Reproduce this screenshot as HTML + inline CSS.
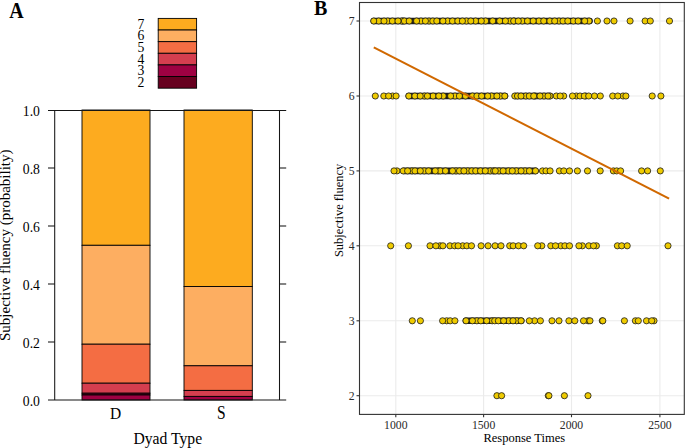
<!DOCTYPE html>
<html><head><meta charset="utf-8"><style>
html,body{margin:0;padding:0;background:#fff;}
body{width:685px;height:448px;overflow:hidden;}
svg{display:block;}
text{font-family:"Liberation Serif",serif;fill:#000;}
.lt{font-size:13.7px;}
.at{font-size:13.7px;}
.xt{font-size:15.5px;}
.ttl{font-size:15.7px;}
.ttl2{font-size:15px;}
.pl{font-size:20px;font-weight:bold;}
.bt{font-size:11.7px;fill:#2a2a2a;}
.bttl{font-size:12.5px;}
</style></head><body>
<svg width="685" height="448" viewBox="0 0 685 448">
<rect x="158.2" y="18.4" width="38.4" height="11.63" fill="#FDAB1F" stroke="#000" stroke-width="0.9"/>
<text transform="translate(144.4,28.62)" class="lt" text-anchor="end">7</text>
<rect x="158.2" y="30.03" width="38.4" height="11.63" fill="#FDAE61" stroke="#000" stroke-width="0.9"/>
<text transform="translate(144.4,40.24)" class="lt" text-anchor="end">6</text>
<rect x="158.2" y="41.66" width="38.4" height="11.63" fill="#F46D43" stroke="#000" stroke-width="0.9"/>
<text transform="translate(144.4,51.87)" class="lt" text-anchor="end">5</text>
<rect x="158.2" y="53.29" width="38.4" height="11.63" fill="#D53E4F" stroke="#000" stroke-width="0.9"/>
<text transform="translate(144.4,63.5)" class="lt" text-anchor="end">4</text>
<rect x="158.2" y="64.92" width="38.4" height="11.63" fill="#9E0142" stroke="#000" stroke-width="0.9"/>
<text transform="translate(144.4,75.14)" class="lt" text-anchor="end">3</text>
<rect x="158.2" y="76.55" width="38.4" height="11.63" fill="#67001F" stroke="#000" stroke-width="0.9"/>
<text transform="translate(144.4,86.77)" class="lt" text-anchor="end">2</text>
<rect x="82" y="110" width="68" height="135.3" fill="#FDAB1F" stroke="#000" stroke-width="0.9"/>
<rect x="82" y="245.3" width="68" height="98.9" fill="#FDAE61" stroke="#000" stroke-width="0.9"/>
<rect x="82" y="344.2" width="68" height="39" fill="#F46D43" stroke="#000" stroke-width="0.9"/>
<rect x="82" y="383.2" width="68" height="10" fill="#D53E4F" stroke="#000" stroke-width="0.9"/>
<rect x="82" y="393.2" width="68" height="1.8" fill="#67001F" stroke="#000" stroke-width="0.9"/>
<rect x="82" y="395" width="68" height="5" fill="#9E0142" stroke="#000" stroke-width="0.9"/>
<rect x="184" y="110" width="68.3" height="176.5" fill="#FDAB1F" stroke="#000" stroke-width="0.9"/>
<rect x="184" y="286.5" width="68.3" height="79.3" fill="#FDAE61" stroke="#000" stroke-width="0.9"/>
<rect x="184" y="365.8" width="68.3" height="24.6" fill="#F46D43" stroke="#000" stroke-width="0.9"/>
<rect x="184" y="390.4" width="68.3" height="6" fill="#D53E4F" stroke="#000" stroke-width="0.9"/>
<rect x="184" y="396.4" width="68.3" height="3.6" fill="#9E0142" stroke="#000" stroke-width="0.9"/>
<g stroke="#151515" stroke-width="1.05" fill="none">
<line x1="48" y1="110.4" x2="286.2" y2="110.4"/>
<line x1="48" y1="400" x2="286.2" y2="400"/>
<line x1="54.7" y1="110" x2="54.7" y2="400"/>
<line x1="279.5" y1="110" x2="279.5" y2="400"/>
<line x1="48" y1="168" x2="54.8" y2="168"/>
<line x1="279.5" y1="168" x2="286.2" y2="168"/>
<line x1="48" y1="226" x2="54.8" y2="226"/>
<line x1="279.5" y1="226" x2="286.2" y2="226"/>
<line x1="48" y1="284" x2="54.8" y2="284"/>
<line x1="279.5" y1="284" x2="286.2" y2="284"/>
<line x1="48" y1="342" x2="54.8" y2="342"/>
<line x1="279.5" y1="342" x2="286.2" y2="342"/>
</g>
<text transform="translate(39.9,115.6)" class="at" text-anchor="end">1.0</text>
<text transform="translate(39.9,173.6)" class="at" text-anchor="end">0.8</text>
<text transform="translate(39.9,231.6)" class="at" text-anchor="end">0.6</text>
<text transform="translate(39.9,289.6)" class="at" text-anchor="end">0.4</text>
<text transform="translate(39.9,347.6)" class="at" text-anchor="end">0.2</text>
<text transform="translate(39.9,405.6)" class="at" text-anchor="end">0.0</text>
<text transform="translate(115.7,419.2) scale(1,1.12)" class="xt" text-anchor="middle">D</text>
<text transform="translate(221.3,418.5) scale(1,1.16)" class="xt" text-anchor="middle">S</text>
<text transform="translate(167.75,444.1) scale(1,1.05)" class="ttl" text-anchor="middle">Dyad Type</text>
<text transform="translate(10,245.25) rotate(-90) scale(1,0.97)" class="ttl2" text-anchor="middle">Subjective fluency (probability)</text>
<text transform="translate(9.3,17.6) scale(1,1.13)" class="pl">A</text>
<rect x="359.5" y="2.5" width="324.8" height="411.9" fill="#fff"/>
<g stroke="#EBEBEB" stroke-width="1.1">
<line x1="395.8" y1="2.5" x2="395.8" y2="414.4"/>
<line x1="483.6" y1="2.5" x2="483.6" y2="414.4"/>
<line x1="571.5" y1="2.5" x2="571.5" y2="414.4"/>
<line x1="659.9" y1="2.5" x2="659.9" y2="414.4"/>
<line x1="359.5" y1="21.0" x2="684.3" y2="21.0"/>
<line x1="359.5" y1="96.0" x2="684.3" y2="96.0"/>
<line x1="359.5" y1="170.9" x2="684.3" y2="170.9"/>
<line x1="359.5" y1="245.8" x2="684.3" y2="245.8"/>
<line x1="359.5" y1="320.8" x2="684.3" y2="320.8"/>
<line x1="359.5" y1="395.7" x2="684.3" y2="395.7"/>
</g>
<rect x="370.6" y="17.7" width="222.2" height="6.6" rx="3" fill="#1a1a1a"/>
<rect x="405.6" y="92.7" width="102.6" height="6.6" rx="3" fill="#1a1a1a"/>
<rect x="512.4" y="92.7" width="40.6" height="6.6" rx="3" fill="#1a1a1a"/>
<rect x="400.8" y="167.6" width="137.8" height="6.6" rx="3" fill="#1a1a1a"/>
<rect x="462.6" y="317.5" width="61.9" height="6.6" rx="3" fill="#1a1a1a"/>
<g fill="#EFCB00" stroke="#1a1a1a" stroke-width="0.8">
<circle cx="378.7" cy="21" r="3.1"/>
<circle cx="387.8" cy="21" r="3.1"/>
<circle cx="403" cy="21" r="3.1"/>
<circle cx="401.8" cy="21" r="3.1"/>
<circle cx="404.4" cy="21" r="3.1"/>
<circle cx="421" cy="21" r="3.1"/>
<circle cx="429" cy="21" r="3.1"/>
<circle cx="432.8" cy="21" r="3.1"/>
<circle cx="447.7" cy="21" r="3.1"/>
<circle cx="466.4" cy="21" r="3.1"/>
<circle cx="475.6" cy="21" r="3.1"/>
<circle cx="485.6" cy="21" r="3.1"/>
<circle cx="510.2" cy="21" r="3.1"/>
<circle cx="514" cy="21" r="3.1"/>
<circle cx="522.3" cy="21" r="3.1"/>
<circle cx="527.5" cy="21" r="3.1"/>
<circle cx="538.9" cy="21" r="3.1"/>
<circle cx="549.8" cy="21" r="3.1"/>
<circle cx="559" cy="21" r="3.1"/>
<circle cx="563" cy="21" r="3.1"/>
<circle cx="573.3" cy="21" r="3.1"/>
<circle cx="589" cy="21" r="3.1"/>
<circle cx="645.1" cy="21" r="3.1"/>
<circle cx="392.6" cy="96" r="3.1"/>
<circle cx="424.5" cy="96" r="3.1"/>
<circle cx="433.1" cy="96" r="3.1"/>
<circle cx="443.2" cy="96" r="3.1"/>
<circle cx="455" cy="96" r="3.1"/>
<circle cx="472.5" cy="96" r="3.1"/>
<circle cx="491.6" cy="96" r="3.1"/>
<circle cx="500.4" cy="96" r="3.1"/>
<circle cx="514.8" cy="96" r="3.1"/>
<circle cx="525.8" cy="96" r="3.1"/>
<circle cx="529.3" cy="96" r="3.1"/>
<circle cx="535" cy="96" r="3.1"/>
<circle cx="544" cy="96" r="3.1"/>
<circle cx="550.1" cy="96" r="3.1"/>
<circle cx="556.3" cy="96" r="3.1"/>
<circle cx="563.7" cy="96" r="3.1"/>
<circle cx="576.4" cy="96" r="3.1"/>
<circle cx="580" cy="96" r="3.1"/>
<circle cx="585.7" cy="96" r="3.1"/>
<circle cx="594.5" cy="96" r="3.1"/>
<circle cx="623" cy="96" r="3.1"/>
<circle cx="397" cy="170.9" r="3.1"/>
<circle cx="403.2" cy="170.9" r="3.1"/>
<circle cx="412" cy="170.9" r="3.1"/>
<circle cx="415" cy="170.9" r="3.1"/>
<circle cx="424.2" cy="170.9" r="3.1"/>
<circle cx="438.2" cy="170.9" r="3.1"/>
<circle cx="440.3" cy="170.9" r="3.1"/>
<circle cx="456" cy="170.9" r="3.1"/>
<circle cx="467.8" cy="170.9" r="3.1"/>
<circle cx="471.8" cy="170.9" r="3.1"/>
<circle cx="490.2" cy="170.9" r="3.1"/>
<circle cx="499" cy="170.9" r="3.1"/>
<circle cx="508.4" cy="170.9" r="3.1"/>
<circle cx="516.3" cy="170.9" r="3.1"/>
<circle cx="525" cy="170.9" r="3.1"/>
<circle cx="535.5" cy="170.9" r="3.1"/>
<circle cx="542.5" cy="170.9" r="3.1"/>
<circle cx="559.4" cy="170.9" r="3.1"/>
<circle cx="563.8" cy="170.9" r="3.1"/>
<circle cx="613.4" cy="170.9" r="3.1"/>
<circle cx="616.7" cy="170.9" r="3.1"/>
<circle cx="641.6" cy="170.9" r="3.1"/>
<circle cx="440" cy="245.8" r="3.1"/>
<circle cx="442.9" cy="245.8" r="3.1"/>
<circle cx="449.9" cy="245.8" r="3.1"/>
<circle cx="454.6" cy="245.8" r="3.1"/>
<circle cx="462.7" cy="245.8" r="3.1"/>
<circle cx="466.8" cy="245.8" r="3.1"/>
<circle cx="509.7" cy="245.8" r="3.1"/>
<circle cx="541.8" cy="245.8" r="3.1"/>
<circle cx="550.8" cy="245.8" r="3.1"/>
<circle cx="560.8" cy="245.8" r="3.1"/>
<circle cx="582.4" cy="245.8" r="3.1"/>
<circle cx="596.4" cy="245.8" r="3.1"/>
<circle cx="617.4" cy="245.8" r="3.1"/>
<circle cx="446.7" cy="320.8" r="3.1"/>
<circle cx="450.2" cy="320.8" r="3.1"/>
<circle cx="476.9" cy="320.8" r="3.1"/>
<circle cx="492.2" cy="320.8" r="3.1"/>
<circle cx="494.7" cy="320.8" r="3.1"/>
<circle cx="508.8" cy="320.8" r="3.1"/>
<circle cx="516.7" cy="320.8" r="3.1"/>
<circle cx="534.6" cy="320.8" r="3.1"/>
<circle cx="588.2" cy="320.8" r="3.1"/>
<circle cx="590" cy="320.8" r="3.1"/>
<circle cx="602.3" cy="320.8" r="3.1"/>
<circle cx="635.4" cy="320.8" r="3.1"/>
<circle cx="646.5" cy="320.8" r="3.1"/>
<circle cx="654" cy="320.8" r="3.1"/>
<circle cx="548.3" cy="395.7" r="3.1"/>
<circle cx="373.7" cy="21" r="3.1"/>
<circle cx="384" cy="21" r="3.1"/>
<circle cx="392.4" cy="21" r="3.1"/>
<circle cx="398" cy="21" r="3.1"/>
<circle cx="409.2" cy="21" r="3.1"/>
<circle cx="416.6" cy="21" r="3.1"/>
<circle cx="425.4" cy="21" r="3.1"/>
<circle cx="436.8" cy="21" r="3.1"/>
<circle cx="442.9" cy="21" r="3.1"/>
<circle cx="452.5" cy="21" r="3.1"/>
<circle cx="457.8" cy="21" r="3.1"/>
<circle cx="462.4" cy="21" r="3.1"/>
<circle cx="470.8" cy="21" r="3.1"/>
<circle cx="481.3" cy="21" r="3.1"/>
<circle cx="492.7" cy="21" r="3.1"/>
<circle cx="499.7" cy="21" r="3.1"/>
<circle cx="505.4" cy="21" r="3.1"/>
<circle cx="513.7" cy="21" r="3.1"/>
<circle cx="518.3" cy="21" r="3.1"/>
<circle cx="533.2" cy="21" r="3.1"/>
<circle cx="543.7" cy="21" r="3.1"/>
<circle cx="554.7" cy="21" r="3.1"/>
<circle cx="567.8" cy="21" r="3.1"/>
<circle cx="578.1" cy="21" r="3.1"/>
<circle cx="584.7" cy="21" r="3.1"/>
<circle cx="597.4" cy="21" r="3.1"/>
<circle cx="607" cy="21" r="3.1"/>
<circle cx="614" cy="21" r="3.1"/>
<circle cx="630.1" cy="21" r="3.1"/>
<circle cx="650.3" cy="21" r="3.1"/>
<circle cx="669.5" cy="21" r="3.1"/>
<circle cx="375.3" cy="96" r="3.1"/>
<circle cx="383.8" cy="96" r="3.1"/>
<circle cx="388.6" cy="96" r="3.1"/>
<circle cx="396.1" cy="96" r="3.1"/>
<circle cx="408.8" cy="96" r="3.1"/>
<circle cx="414.9" cy="96" r="3.1"/>
<circle cx="420.2" cy="96" r="3.1"/>
<circle cx="427.4" cy="96" r="3.1"/>
<circle cx="438.8" cy="96" r="3.1"/>
<circle cx="450.6" cy="96" r="3.1"/>
<circle cx="459.4" cy="96" r="3.1"/>
<circle cx="465.5" cy="96" r="3.1"/>
<circle cx="476.9" cy="96" r="3.1"/>
<circle cx="481.6" cy="96" r="3.1"/>
<circle cx="487.7" cy="96" r="3.1"/>
<circle cx="496.9" cy="96" r="3.1"/>
<circle cx="504.8" cy="96" r="3.1"/>
<circle cx="517.5" cy="96" r="3.1"/>
<circle cx="521" cy="96" r="3.1"/>
<circle cx="533.7" cy="96" r="3.1"/>
<circle cx="540" cy="96" r="3.1"/>
<circle cx="548" cy="96" r="3.1"/>
<circle cx="560.2" cy="96" r="3.1"/>
<circle cx="572.5" cy="96" r="3.1"/>
<circle cx="584.3" cy="96" r="3.1"/>
<circle cx="588.7" cy="96" r="3.1"/>
<circle cx="600.3" cy="96" r="3.1"/>
<circle cx="612.7" cy="96" r="3.1"/>
<circle cx="617.8" cy="96" r="3.1"/>
<circle cx="625.9" cy="96" r="3.1"/>
<circle cx="652.2" cy="96" r="3.1"/>
<circle cx="660.9" cy="96" r="3.1"/>
<circle cx="394" cy="170.9" r="3.1"/>
<circle cx="407.6" cy="170.9" r="3.1"/>
<circle cx="420.3" cy="170.9" r="3.1"/>
<circle cx="428.6" cy="170.9" r="3.1"/>
<circle cx="435.2" cy="170.9" r="3.1"/>
<circle cx="445.5" cy="170.9" r="3.1"/>
<circle cx="452.5" cy="170.9" r="3.1"/>
<circle cx="459.5" cy="170.9" r="3.1"/>
<circle cx="463.9" cy="170.9" r="3.1"/>
<circle cx="475.7" cy="170.9" r="3.1"/>
<circle cx="480.5" cy="170.9" r="3.1"/>
<circle cx="485.3" cy="170.9" r="3.1"/>
<circle cx="493.7" cy="170.9" r="3.1"/>
<circle cx="495.3" cy="170.9" r="3.1"/>
<circle cx="503.1" cy="170.9" r="3.1"/>
<circle cx="512.3" cy="170.9" r="3.1"/>
<circle cx="521.1" cy="170.9" r="3.1"/>
<circle cx="529.4" cy="170.9" r="3.1"/>
<circle cx="546" cy="170.9" r="3.1"/>
<circle cx="550.1" cy="170.9" r="3.1"/>
<circle cx="569.5" cy="170.9" r="3.1"/>
<circle cx="577.4" cy="170.9" r="3.1"/>
<circle cx="587.5" cy="170.9" r="3.1"/>
<circle cx="600.2" cy="170.9" r="3.1"/>
<circle cx="620.6" cy="170.9" r="3.1"/>
<circle cx="647.6" cy="170.9" r="3.1"/>
<circle cx="660.3" cy="170.9" r="3.1"/>
<circle cx="390.7" cy="245.8" r="3.1"/>
<circle cx="408.4" cy="245.8" r="3.1"/>
<circle cx="430" cy="245.8" r="3.1"/>
<circle cx="435.9" cy="245.8" r="3.1"/>
<circle cx="458.1" cy="245.8" r="3.1"/>
<circle cx="471.5" cy="245.8" r="3.1"/>
<circle cx="481.1" cy="245.8" r="3.1"/>
<circle cx="488.1" cy="245.8" r="3.1"/>
<circle cx="495.1" cy="245.8" r="3.1"/>
<circle cx="501" cy="245.8" r="3.1"/>
<circle cx="513.2" cy="245.8" r="3.1"/>
<circle cx="518.5" cy="245.8" r="3.1"/>
<circle cx="523.7" cy="245.8" r="3.1"/>
<circle cx="537.7" cy="245.8" r="3.1"/>
<circle cx="555.5" cy="245.8" r="3.1"/>
<circle cx="564.9" cy="245.8" r="3.1"/>
<circle cx="569.5" cy="245.8" r="3.1"/>
<circle cx="578.9" cy="245.8" r="3.1"/>
<circle cx="588.8" cy="245.8" r="3.1"/>
<circle cx="593.5" cy="245.8" r="3.1"/>
<circle cx="621.7" cy="245.8" r="3.1"/>
<circle cx="627.2" cy="245.8" r="3.1"/>
<circle cx="668" cy="245.8" r="3.1"/>
<circle cx="412.3" cy="320.8" r="3.1"/>
<circle cx="420.4" cy="320.8" r="3.1"/>
<circle cx="442.6" cy="320.8" r="3.1"/>
<circle cx="454.9" cy="320.8" r="3.1"/>
<circle cx="466" cy="320.8" r="3.1"/>
<circle cx="472.4" cy="320.8" r="3.1"/>
<circle cx="480.8" cy="320.8" r="3.1"/>
<circle cx="486.7" cy="320.8" r="3.1"/>
<circle cx="498.4" cy="320.8" r="3.1"/>
<circle cx="503.6" cy="320.8" r="3.1"/>
<circle cx="513" cy="320.8" r="3.1"/>
<circle cx="521.1" cy="320.8" r="3.1"/>
<circle cx="529.3" cy="320.8" r="3.1"/>
<circle cx="540.4" cy="320.8" r="3.1"/>
<circle cx="552" cy="320.8" r="3.1"/>
<circle cx="559" cy="320.8" r="3.1"/>
<circle cx="568.9" cy="320.8" r="3.1"/>
<circle cx="574.8" cy="320.8" r="3.1"/>
<circle cx="583.5" cy="320.8" r="3.1"/>
<circle cx="602.8" cy="320.8" r="3.1"/>
<circle cx="624.4" cy="320.8" r="3.1"/>
<circle cx="638.3" cy="320.8" r="3.1"/>
<circle cx="651.7" cy="320.8" r="3.1"/>
<circle cx="496.9" cy="395.7" r="3.1"/>
<circle cx="501.6" cy="395.7" r="3.1"/>
<circle cx="548.9" cy="395.7" r="3.1"/>
<circle cx="564.4" cy="395.7" r="3.1"/>
<circle cx="588" cy="395.7" r="3.1"/>
</g>
<line x1="373.8" y1="47.4" x2="669.1" y2="198.6" stroke="#D06800" stroke-width="2.1"/>
<rect x="359.5" y="2.5" width="324.8" height="411.9" fill="none" stroke="#333" stroke-width="1.1"/>
<g stroke="#333" stroke-width="1.1">
<line x1="356.5" y1="21.0" x2="359.5" y2="21.0"/>
<line x1="356.5" y1="96.0" x2="359.5" y2="96.0"/>
<line x1="356.5" y1="170.9" x2="359.5" y2="170.9"/>
<line x1="356.5" y1="245.8" x2="359.5" y2="245.8"/>
<line x1="356.5" y1="320.8" x2="359.5" y2="320.8"/>
<line x1="356.5" y1="395.7" x2="359.5" y2="395.7"/>
<line x1="395.8" y1="414.4" x2="395.8" y2="417.2"/>
<line x1="483.6" y1="414.4" x2="483.6" y2="417.2"/>
<line x1="571.5" y1="414.4" x2="571.5" y2="417.2"/>
<line x1="659.9" y1="414.4" x2="659.9" y2="417.2"/>
</g>
<text transform="translate(354.5,24.8)" class="bt" text-anchor="end">7</text>
<text transform="translate(354.5,99.8)" class="bt" text-anchor="end">6</text>
<text transform="translate(354.5,174.7)" class="bt" text-anchor="end">5</text>
<text transform="translate(354.5,249.6)" class="bt" text-anchor="end">4</text>
<text transform="translate(354.5,324.6)" class="bt" text-anchor="end">3</text>
<text transform="translate(354.5,399.5)" class="bt" text-anchor="end">2</text>
<text transform="translate(395.8,428.8)" class="bt" text-anchor="middle">1000</text>
<text transform="translate(483.6,428.8)" class="bt" text-anchor="middle">1500</text>
<text transform="translate(571.5,428.8)" class="bt" text-anchor="middle">2000</text>
<text transform="translate(659.9,428.8)" class="bt" text-anchor="middle">2500</text>
<text transform="translate(524.3,442.4)" class="bttl" text-anchor="middle">Response Times</text>
<text transform="translate(343.3,210.4) rotate(-90)" class="bttl" text-anchor="middle">Subjective fluency</text>
<text transform="translate(314.1,14.9) scale(1,1.07)" class="pl">B</text>
</svg>
</body></html>
